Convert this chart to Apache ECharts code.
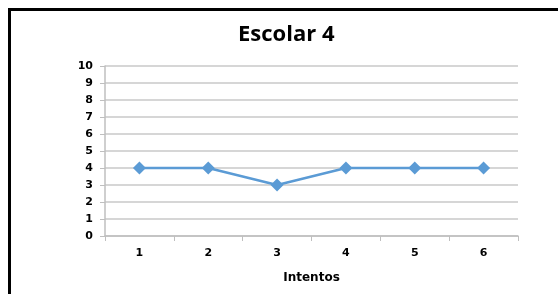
<!DOCTYPE html>
<html>
<head>
<meta charset="utf-8"/>
<title>Escolar 4</title>
<script src="https://cdn.jsdelivr.net/npm/echarts@6/dist/echarts.min.js"></script>
<style>
  html, body { margin: 0; padding: 0; background: #fff; }
  #wrap { position: relative; width: 558px; height: 294px; overflow: hidden; }
  #frame { position: absolute; left: 8px; top: 8px; width: 600px; height: 400px; border-left: 3px solid #000; border-top: 3px solid #000; }
  #chart { position: absolute; left: 0; top: 0; width: 558px; height: 294px; }
</style>
</head>
<body>
<div id="wrap">
  <div id="frame"></div>
  <div id="chart"></div>
</div>
<script>
var categories = ['1', '2', '3', '4', '5', '6'];
var values = [4, 4, 3, 4, 4, 4];
var yMin = 0, yMax = 10, yStep = 1;

var myChart = echarts.init(document.getElementById('chart'));
myChart.setOption({
  animation: false,
  graphic: [{
    type: 'text',
    left: 238,
    top: 24,
    style: { text: 'Escolar 4', font: 'bold 22px "Open Sans"', fill: '#000' }
  }],
  grid: { left: 105, right: 40, top: 66, bottom: 58 },
  xAxis: {
    type: 'category',
    data: categories,
    boundaryGap: true,
    name: 'Intentos',
    nameLocation: 'middle',
    nameGap: 36,
    nameTextStyle: { fontFamily: 'DejaVu Sans', fontWeight: 'bold', fontSize: 12, color: '#000' },
    axisLine: { lineStyle: { color: '#bfbfbf', width: 1.5 } },
    axisTick: { show: true, alignWithLabel: false, length: 5, lineStyle: { color: '#bfbfbf' } },
    axisLabel: { fontFamily: 'DejaVu Sans', fontWeight: 'bold', fontSize: 11, color: '#000', margin: 12 }
  },
  yAxis: {
    type: 'value',
    min: yMin,
    max: yMax,
    interval: yStep,
    axisLine: { show: true, lineStyle: { color: '#bfbfbf', width: 1.5 } },
    axisTick: { show: true, length: 5, lineStyle: { color: '#bfbfbf' } },
    axisLabel: { fontFamily: 'DejaVu Sans', fontWeight: 'bold', fontSize: 11, color: '#000', margin: 12 },
    splitLine: { lineStyle: { color: '#c8c8c8', width: 1.5 } }
  },
  series: [{
    type: 'line',
    data: values,
    symbol: 'diamond',
    symbolSize: 13,
    lineStyle: { color: '#5b9bd5', width: 2.5 },
    itemStyle: { color: '#5b9bd5' }
  }]
});
</script>
</body>
</html>
